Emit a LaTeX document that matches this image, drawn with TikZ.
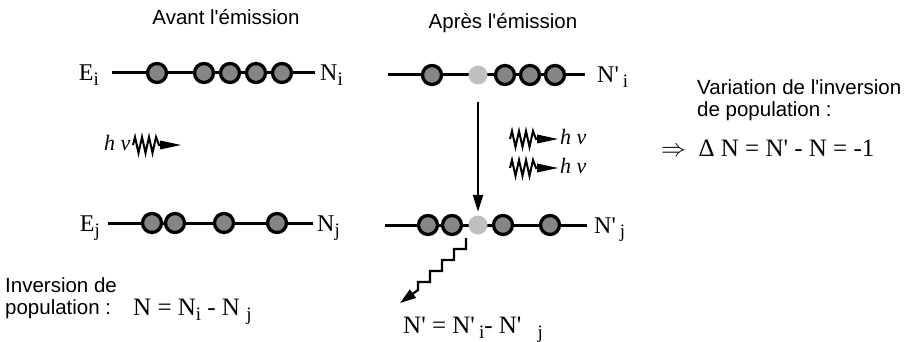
\documentclass[tikz,border=0pt]{standalone}
\usepackage{fontspec}
\newfontfamily\tms{Liberation Serif}
\newfontfamily\hel{Liberation Sans}
\usetikzlibrary{arrows.meta}
\newcommand{\lsub}[1]{\raisebox{-5pt}{\fontsize{19}{19}\selectfont #1}}
\begin{document}
\begin{tikzpicture}[x=1pt,y=-1pt,
  level/.style={line width=3pt},
  dot/.style={circle,draw=black,line width=3.3pt,fill=black!48,minimum size=19pt,inner sep=0pt},
  ldot/.style={circle,fill=black!25,minimum size=19pt,inner sep=0pt},
  sans/.style={font=\hel\fontsize{20.5}{22}\selectfont,inner sep=0pt},
  serif/.style={font=\tms\fontsize{24}{28}\selectfont,inner sep=0pt},
  formula/.style={font=\tms\fontsize{25}{30}\selectfont,inner sep=0pt},
  hnu/.style={font=\tms\itshape\fontsize{22}{24}\selectfont,inner sep=0pt},
  photon/.pic={
    \draw[line width=2pt,line join=miter,miter limit=20]
      (0,0) -- (2,-8) -- (5.5,8) -- (9,-8) -- (12.5,8) -- (16,-8) -- (19.5,8) -- (23,-8) -- (26,0) -- (30,0);
    \fill (27,-4.5) -- (48,0) -- (27,4.5) -- cycle;
  }]
\useasboundingbox (0,0) rectangle (905,342);
\fill[white] (0,0) rectangle (905,342);

% titles
\node[sans,anchor=base] (t1) at (226,25) {Avant l'émission};
\node[sans,anchor=base] (t2) at (503,29) {Après l'émission};

% top left level
\coordinate (a0) at (112,73); \coordinate (a1) at (315,73);
\draw[level] (a0) -- (a1);
\foreach \x [count=\k] in {157,204,230,256,282} \node[dot] (ac\k) at (\x,73) {};
\node[serif,anchor=base east] (Ei) at (99,81) {E\lsub{i}};
\node[serif,anchor=base west] (Ni) at (320,81) {N\lsub{i}};

% bottom left level
\coordinate (b0) at (108,223); \coordinate (b1) at (313,223);
\draw[level] (b0) -- (b1);
\foreach \x [count=\k] in {152,175,224,277} \node[dot] (bc\k) at (\x,223) {};
\node[serif,anchor=base east] (Ej) at (100,231) {E\lsub{j}};
\node[serif,anchor=base west] (Nj) at (317,231) {N\lsub{j}};

% top right level
\coordinate (c0) at (388,75); \coordinate (c1) at (585,75);
\draw[level] (c0) -- (c1);
\foreach \x [count=\k] in {432,505,530,555} \node[dot] (cc\k) at (\x,75) {};
\node[ldot] (tl) at (478,75) {};
\node[serif,anchor=base west] (Npi) at (597,83) {N'\,\lsub{i}};

% bottom right level
\coordinate (d0) at (385,225); \coordinate (d1) at (587,225);
\draw[level] (d0) -- (d1);
\foreach \x [count=\k] in {428,452,503,550} \node[dot] (dc\k) at (\x,225) {};
\node[ldot] (bl) at (478,225) {};
\node[serif,anchor=base west] (Npj) at (594,233) {N'\,\lsub{j}};

% emission arrow
\draw[line width=2.4pt,-{Triangle[length=17pt,width=10pt]}]
  ([yshift=-17.5pt]tl.south) -- ([yshift=3.5pt]bl.north);

% photons
\node[hnu,anchor=base west] (hv0) at (104,150) {h ν};
\pic at (133,145) {photon};
\pic at (510,139) {photon};
\node[hnu,anchor=base west] (hv1) at (560,145) {h ν};
\pic at (510,168) {photon};
\node[hnu,anchor=base west] (hv2) at (560,174) {h ν};

% spontaneous decay staircase
\coordinate (s0) at (466,238);
\coordinate (s1) at (400,303);
\draw[line width=2.2pt,line join=miter,-{Triangle[length=16pt,width=10pt]}]
  (s0) -- ++(0,11) -- ++(-12,0) -- ++(0,11) -- ++(-12,0) -- ++(0,11) -- ++(-12,0)
  -- ++(0,11) -- ++(-12,0) -- ++(0,8) -- (s1);

% right texts
\node[sans,anchor=base west] (v1) at (697,95) {Variation de l'inversion};
\node[sans,anchor=base west] (v2) at (697,117) {de population :};
\node[formula,anchor=base west] (dn) at (661,157) {$\Rightarrow$\ \ Δ N = N' - N = -1};

% bottom texts
\node[sans,anchor=base west] (p1) at (5,292) {Inversion de};
\node[sans,anchor=base west] (p2) at (5,314) {population :};
\node[formula,anchor=base west] (f1) at (133,315) {N = N\lsub{i} - N \lsub{j}};
\node[formula,anchor=base west] (f2) at (403,333) {N' = N'\,\lsub{i}- N'\hspace{16pt}\lsub{j}};
\end{tikzpicture}
\end{document}
